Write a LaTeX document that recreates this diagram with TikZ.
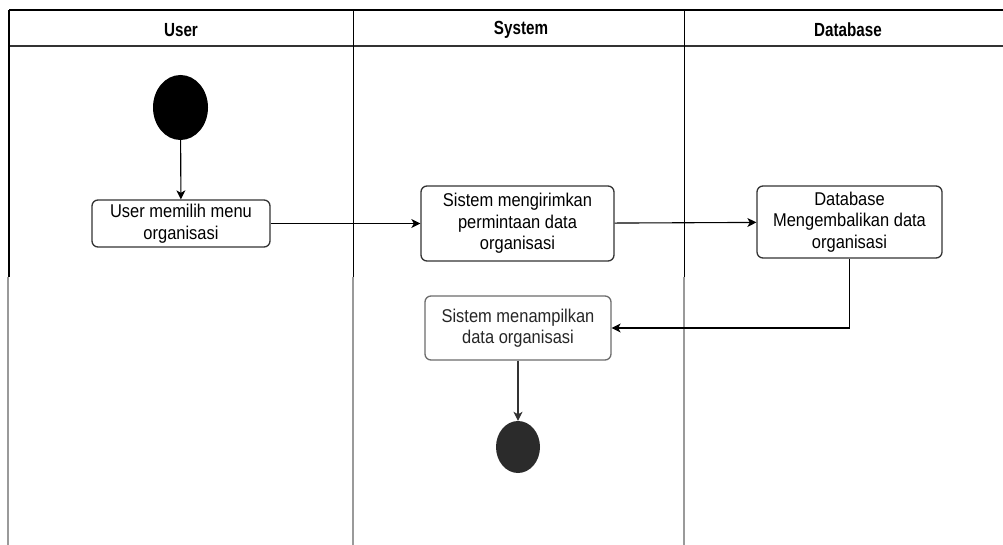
\documentclass[tikz,border=0pt]{standalone}
\usepackage{fontspec}
\setmainfont[FakeStretch=0.89]{Liberation Sans}
\newfontfamily\lanefont[FakeStretch=0.8]{Liberation Sans}
\usetikzlibrary{arrows.meta,shapes.geometric}

\definecolor{edgegray}{HTML}{333333}
\definecolor{scangray}{HTML}{9A9A9A}

\tikzset{
    act/.style={draw=edgegray, line width=1.3pt, rounded corners=6pt,
        align=center, inner sep=0pt, font=\fontsize{18.5}{21.5}\selectfont},
    flow/.style={-{Stealth[length=9pt, width=9pt, inset=2.5pt]}, line width=1.1pt},
    lanehead/.style={font=\lanefont\bfseries\fontsize{19}{22}\selectfont}
}

\begin{document}
\begin{tikzpicture}[x=1pt, y=-1pt]
        \useasboundingbox (0,0) rectangle (1003,545);

        % 1. Define Coordinates
        \coordinate (tl)  at (9,10);      % Top left of the lanes
        \coordinate (hl)  at (9,46);      % Bottom of the header row

        % 2. Swimlanes
        \draw[line width=2pt] (tl) -- (1003,10);
        \draw[line width=2pt, edgegray] (hl) -- (1003,46);
        \foreach \x in {9,353.5,684.5} {
            \draw[line width=1.3pt] (\x,10) -- (\x,277);
            \draw[line width=2pt, scangray] (\x-1,277) -- (\x-1,545);
        }

        % 3. Lane titles
        \node[lanehead] (user)   at (181,30)   {User};
        \node[lanehead] (system) at (521,30)   {System};
        \node[lanehead] (dbase)  at (848,30)   {Database};

        % 4. Activities
        \node[ellipse, fill=black, minimum width=55, minimum height=65] (start) at (180.5,107.5) {};
        \node[act, minimum width=178, minimum height=47] (pick) at (181,223.5)
            {User memilih menu\\organisasi};
        \node[act, minimum width=193, minimum height=75] (send) at (517.5,223.5)
            {Sistem mengirimkan\\permintaan data\\organisasi};
        \node[act, minimum width=185, minimum height=72] (back) at (849.5,222)
            {Database\\Mengembalikan data\\organisasi};
        \node[act, draw=scangray!70!black, text=black!85, minimum width=186, minimum height=64] (show) at (518,328)
            {Sistem menampilkan\\data organisasi};
        \node[ellipse, fill=black!83, minimum width=44, minimum height=52] (stop) at (518,447) {};

        % 5. Flow
        \draw[flow] (start) -- (pick);
        \draw[flow] (pick) -- (send);
        \draw[flow] (send) -- (back);
        \draw[flow] (back.south) |- (show.east);
        \draw[flow, black!80] (show) -- (stop);
    \end{tikzpicture}
\end{document}
